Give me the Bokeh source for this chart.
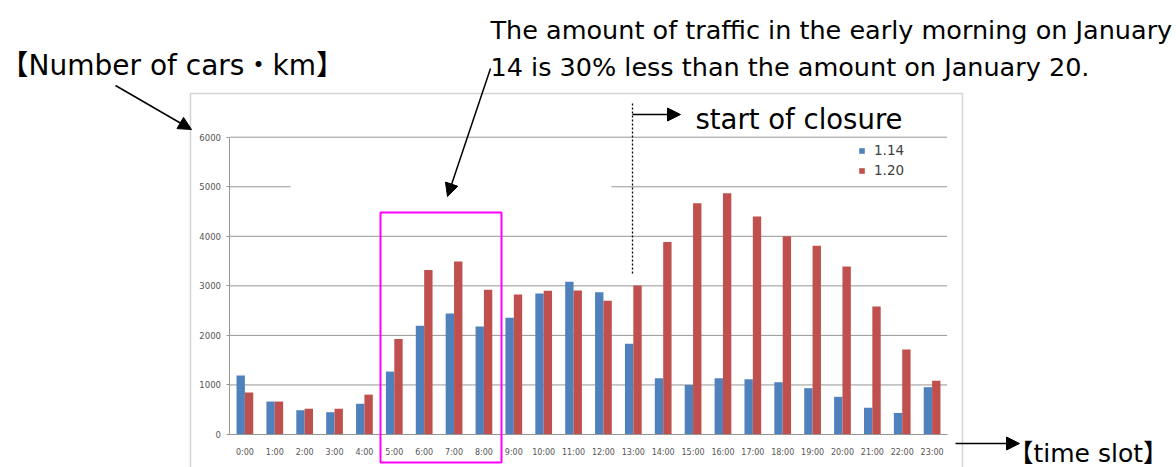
from bokeh.plotting import figure
from bokeh.models import (FactorRange, Range1d, Label, Arrow, NormalHead, BoxAnnotation,
                          Legend, LegendItem, ColumnDataSource, FixedTicker,
                          LinearAxis, CategoricalAxis)
from bokeh.transform import dodge
from bokeh.embed import file_html
from bokeh.resources import INLINE

hours = ["0:00", "1:00", "2:00", "3:00", "4:00", "5:00", "6:00", "7:00", "8:00", "9:00",
         "10:00", "11:00", "12:00", "13:00", "14:00", "15:00", "16:00", "17:00", "18:00",
         "19:00", "20:00", "21:00", "22:00", "23:00"]
jan14 = [1190, 665, 490, 450, 620, 1270, 2195, 2440, 2180, 2355, 2845, 3085, 2870, 1830,
         1135, 1000, 1135, 1115, 1055, 935, 760, 540, 435, 955]
jan20 = [850, 665, 520, 520, 805, 1925, 3320, 3490, 2920, 2825, 2900, 2905, 2700, 3005,
         3885, 4665, 4870, 4400, 4000, 3810, 3390, 2585, 1715, 1085]
series_labels = ["1.14", "1.20"]
y_ticks = [0, 1000, 2000, 3000, 4000, 5000, 6000]

BLUE = "#4F81BD"
RED = "#C0504D"
GRID = "#969696"
FONT = "DejaVu Sans, Noto Sans CJK JP"

W, H = 1176, 467
src = ColumnDataSource(dict(hour=hours, jan14=jan14, jan20=jan20))
grid_src = ColumnDataSource(dict(y=y_ticks, x0=[0] * len(y_ticks),
                                 x1=[len(hours)] * len(y_ticks)))

# frame covers the whole canvas so the surrounding annotations are not clipped
p = figure(x_range=FactorRange(factors=hours, range_padding=7.68,
                               range_padding_units="absolute"),
           y_range=Range1d(-666, 8759),
           width=W, height=H, output_backend="svg", toolbar_location=None,
           x_axis_location=None, y_axis_location=None,
           min_border_left=0, min_border_right=0, min_border_top=0, min_border_bottom=0)
p.outline_line_color = None
p.background_fill_color = "white"
p.border_fill_color = "white"
p.xgrid.grid_line_color = None
p.ygrid.grid_line_color = None

# horizontal gridlines over the category span
p.segment(x0="x0", x1="x1", y0="y", y1="y", source=grid_src, line_color=GRID, line_width=1)

r1 = p.vbar(x=dodge("hour", -0.14, range=p.x_range), top="jan14", width=0.28, source=src,
            fill_color=BLUE, line_color=None)
r2 = p.vbar(x=dodge("hour", 0.14, range=p.x_range), top="jan20", width=0.28, source=src,
            fill_color=RED, line_color=None)

yaxis = LinearAxis(fixed_location=0, bounds=(0, 6000), ticker=FixedTicker(ticks=y_ticks))
yaxis.axis_line_color = GRID
yaxis.major_tick_line_color = GRID
yaxis.major_tick_out = 3
yaxis.major_tick_in = 0
yaxis.minor_tick_line_color = None
yaxis.major_label_text_font = FONT
yaxis.major_label_text_font_size = "8.5px"
yaxis.major_label_text_color = "#555555"
yaxis.major_label_standoff = 6
p.add_layout(yaxis, "left")

xaxis = CategoricalAxis(fixed_location=0, bounds=(0, len(hours)))
xaxis.axis_line_color = GRID
xaxis.major_tick_line_color = None
xaxis.major_tick_out = 0
xaxis.major_tick_in = 0
xaxis.major_label_text_font = FONT
xaxis.major_label_text_font_size = "8px"
xaxis.major_label_text_color = "#555555"
xaxis.major_label_standoff = 13
p.add_layout(xaxis, "below")

legend = Legend(items=[LegendItem(label=series_labels[0], renderers=[r1]),
                       LegendItem(label=series_labels[1], renderers=[r2])],
                location=(858, 287), padding=0, margin=0, spacing=0,
                glyph_width=7, glyph_height=7, label_standoff=9, label_height=20,
                label_text_font=FONT, label_text_font_size="13.5px",
                label_text_color="#404040", border_line_color=None,
                background_fill_alpha=0)
p.add_layout(legend)

def box(l, r, t, b, **kw):
    p.add_layout(BoxAnnotation(left=l, right=r, top=t, bottom=b,
                               left_units="canvas", right_units="canvas",
                               top_units="canvas", bottom_units="canvas", **kw))

# chart border, erased part of the 5000 gridline, highlight box
box(190, 962, 93, 490, fill_alpha=0, line_color="#D3D3D3", line_alpha=1, line_width=1.5)
box(290, 611, 183, 190, fill_color="white", fill_alpha=1, line_color=None)
box(380, 501, 212, 462, fill_alpha=0, line_color="#FF00FF", line_alpha=1, line_width=2)

def arrow(x0, y0, x1, y1, head=True, dash="solid", lw=1.5):
    end = NormalHead(size=13, fill_color="black", line_color="black") if head else None
    p.add_layout(Arrow(x_start=x0, y_start=y0, x_end=x1, y_end=y1,
                       start_units="canvas", end_units="canvas", end=end,
                       line_color="black", line_width=lw, line_dash=dash))

arrow(115, 85, 191, 129)
arrow(490, 68, 447, 196)
arrow(632, 103, 632, 275, head=False, dash="2 2", lw=1.3)
arrow(632, 114, 680, 114)
arrow(955, 443, 1019, 443)

def label(x, y, text, size):
    p.add_layout(Label(x=x, y=y, x_units="canvas", y_units="canvas", text=text,
                       text_font=FONT, text_font_size=size, text_color="black",
                       text_baseline="alphabetic", text_align="left"))

label(490, 29, "The amount of traffic in the early morning on January", "25.5px")
label(490, 66, "14 is 30% less than the amount on January 20.", "25.5px")
label(0, 65, "【Number of cars・km】", "28px")
label(695, 118, "start of closure", "27.5px")
label(1008, 453, "【time slot】", "25px")

open("out.html", "w").write(file_html(p, INLINE))
